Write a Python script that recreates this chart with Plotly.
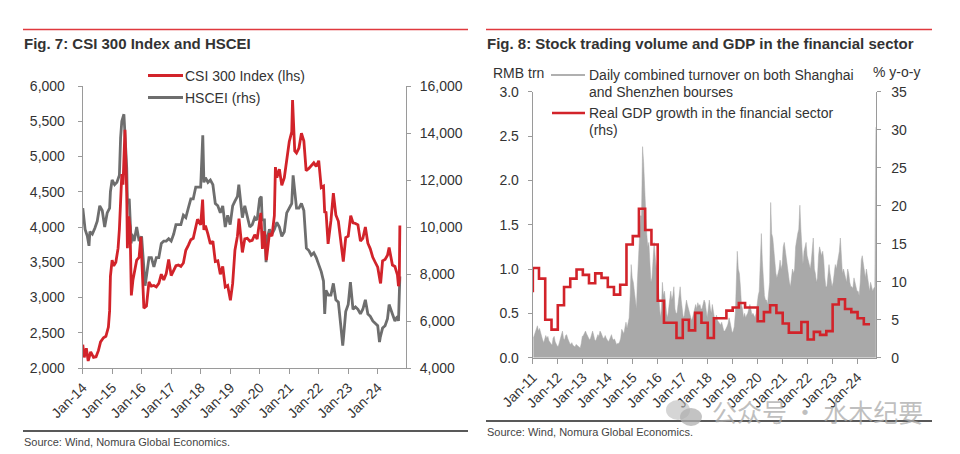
import plotly.graph_objects as go
import pandas as pd

W, H = 960, 454
def px(x): return x / W
def py(y): return 1 - y / H

FONT = "Liberation Sans, Arial, sans-serif"
RED = "#d2232a"
GRAY_LINE = "#6e6e6e"
FILL_GRAY = "#a9a9a9"
TXT = "#333333"
AXIS = "#9a9a9a"

# ---------------- Fig. 7 data ----------------
csi_dates = ["2014-01-02","2014-01-20","2014-02-15","2014-03-10","2014-04-10","2014-05-15","2014-06-15",
 "2014-07-15","2014-08-10","2014-09-15","2014-10-15","2014-11-15","2014-11-30","2014-12-10","2014-12-31",
 "2015-01-20","2015-02-15","2015-03-15","2015-03-31","2015-04-30","2015-05-15","2015-05-31","2015-06-08",
 "2015-06-30","2015-07-08","2015-07-24","2015-08-10","2015-08-26","2015-09-15","2015-10-31","2015-11-30",
 "2015-12-22","2016-01-15","2016-01-28","2016-02-29","2016-03-31","2016-04-30","2016-05-31","2016-06-30",
 "2016-07-31","2016-08-31","2016-09-30","2016-10-31","2016-11-30","2016-12-31","2017-01-31","2017-02-28",
 "2017-03-31","2017-04-30","2017-05-31","2017-06-30","2017-07-31","2017-08-31","2017-09-30","2017-10-31",
 "2017-11-22","2017-12-31","2018-01-24","2018-02-09","2018-02-28","2018-03-31","2018-04-30","2018-05-31",
 "2018-06-30","2018-07-31","2018-08-31","2018-09-30","2018-10-31","2018-11-30","2018-12-31","2019-01-03",
 "2019-01-31","2019-02-28","2019-03-31","2019-04-19","2019-05-31","2019-06-30","2019-07-31","2019-08-31",
 "2019-09-30","2019-10-31","2019-11-30","2019-12-31","2020-01-14","2020-02-03","2020-02-28","2020-03-23",
 "2020-04-30","2020-05-31","2020-06-30","2020-07-13","2020-07-31","2020-08-31","2020-09-30","2020-10-31",
 "2020-11-30","2020-12-31","2021-01-31","2021-02-10","2021-03-09","2021-03-31","2021-04-30","2021-05-31",
 "2021-06-30","2021-07-28","2021-08-31","2021-09-30","2021-10-31","2021-11-30","2021-12-31","2022-01-31",
 "2022-02-28","2022-03-15","2022-03-31","2022-04-26","2022-05-31","2022-06-30","2022-07-31","2022-08-31",
 "2022-09-30","2022-10-31","2022-11-30","2022-12-31","2023-01-31","2023-02-28","2023-03-31","2023-04-30",
 "2023-05-31","2023-06-30","2023-07-31","2023-08-31","2023-09-30","2023-10-31","2023-11-30","2023-12-31",
 "2024-01-31","2024-02-05","2024-02-29","2024-03-31","2024-04-30","2024-05-20","2024-06-30","2024-07-31",
 "2024-08-31","2024-09-13","2024-09-23","2024-09-30"]
csi_values = [2330,2150,2280,2100,2230,2150,2160,
 2250,2370,2430,2450,2580,2810,3300,3530,
 3450,3500,3700,3970,4750,4600,5100,5380,
 4470,3700,4150,4000,3030,3250,3530,3570,
 3860,3120,2850,2880,3220,3160,3170,3150,
 3200,3330,3250,3340,3540,3310,3390,3450,
 3460,3440,3490,3670,3740,3820,3840,4010,
 4110,4030,4390,3960,4020,3900,3760,3800,
 3510,3520,3330,3440,3150,3170,3010,2960,
 3200,3670,3870,4120,3640,3830,3840,3800,
 3810,3890,3830,4100,4200,3690,3940,3530,
 3910,3870,4160,4850,4700,4820,4590,4700,
 4980,5210,5350,5800,5080,5050,5120,5330,
 5220,4800,4830,4870,4910,4860,4940,4560,
 4580,4200,4220,3760,4090,4480,4170,4080,
 3800,3510,3850,3870,4160,4060,4050,4030,
 3800,3840,4000,3770,3690,3570,3500,3430,
 3220,3200,3520,3540,3600,3710,3460,3440,
 3320,3160,3250,4020]

hscei_dates = ["2014-01-02","2014-01-31","2014-02-28","2014-03-20","2014-03-31","2014-04-30","2014-05-31",
 "2014-06-30","2014-07-31","2014-08-31","2014-09-30","2014-10-31","2014-11-30","2014-12-10","2014-12-31",
 "2015-01-31","2015-02-28","2015-03-31","2015-04-15","2015-04-30","2015-05-26","2015-06-30","2015-07-08",
 "2015-07-31","2015-08-24","2015-08-31","2015-09-30","2015-10-31","2015-11-30","2015-12-31","2016-01-31",
 "2016-02-12","2016-02-29","2016-03-31","2016-04-30","2016-05-31","2016-06-30","2016-07-31","2016-08-31",
 "2016-09-30","2016-10-31","2016-11-30","2016-12-31","2017-01-31","2017-02-28","2017-03-31","2017-04-30",
 "2017-05-31","2017-06-30","2017-07-31","2017-08-31","2017-09-30","2017-10-31","2017-11-30","2017-12-31",
 "2018-01-26","2018-02-09","2018-02-28","2018-03-31","2018-04-30","2018-05-31","2018-06-30","2018-07-31",
 "2018-08-31","2018-09-30","2018-10-31","2018-11-30","2018-12-31","2019-01-31","2019-02-28","2019-03-31",
 "2019-04-17","2019-05-31","2019-06-30","2019-07-31","2019-08-31","2019-09-30","2019-10-31","2019-11-30",
 "2019-12-31","2020-01-20","2020-01-31","2020-02-28","2020-03-19","2020-03-31","2020-04-30","2020-05-31",
 "2020-06-30","2020-07-31","2020-08-31","2020-09-30","2020-10-31","2020-11-30","2020-12-31","2021-01-31",
 "2021-02-17","2021-03-31","2021-04-30","2021-05-31","2021-06-30","2021-07-31","2021-08-31","2021-09-30",
 "2021-10-31","2021-11-30","2021-12-31","2022-01-31","2022-02-28","2022-03-15","2022-03-31","2022-04-30",
 "2022-05-31","2022-06-30","2022-07-31","2022-08-31","2022-09-30","2022-10-24","2022-10-31","2022-11-30",
 "2022-12-31","2023-01-27","2023-02-28","2023-03-31","2023-04-30","2023-05-31","2023-06-30","2023-07-31",
 "2023-08-31","2023-09-30","2023-10-31","2023-11-30","2023-12-31","2024-01-22","2024-01-31","2024-02-29",
 "2024-03-31","2024-04-30","2024-05-20","2024-06-30","2024-07-31","2024-08-31","2024-09-13","2024-09-30"]
hscei_values = [10800,9900,9600,9200,9800,9700,9950,
 10250,10900,10700,10000,10600,10800,11500,12000,
 11800,11900,12200,13800,14500,14800,12500,11000,
 11200,9300,9700,9400,10000,9400,9600,8100,
 7500,7900,8700,8700,8300,8700,8700,9300,
 9400,9400,9500,9400,9700,10100,10100,10100,
 10500,10400,10800,11200,11200,11700,11700,11700,
 13900,11900,12100,11900,12000,11800,11000,10900,
 10600,10900,10000,10500,10100,10900,11100,11300,
 11800,10400,10900,10500,10000,10100,10400,10300,
 11200,11300,10300,10300,8500,9500,9900,9700,
 9900,10200,10000,9600,9800,10600,10800,11000,
 12200,10800,10800,11000,10700,9100,9000,8800,
 8900,8700,8400,8100,7700,6300,7300,7100,
 7100,7600,6900,6800,5800,4950,5200,6400,
 6700,7650,6500,6600,6500,6300,6500,6900,
 6300,6200,6000,5900,5800,5100,5300,5700,
 5800,6100,6700,6300,6000,6200,6000,7900]

fig7_years = list(range(2014, 2025))

# ---------------- Fig. 8 data ----------------
# Daily combined turnover (RMB trn), read twice a month (first half, second half)
turnover = [
 0.22,0.25, 0.28,0.33, 0.36,0.30, 0.33,0.28, 0.25,0.20, 0.17,0.20, 0.25,0.22, 0.24,0.19, 0.17,0.15, 0.14,0.22, 0.24,0.18, 0.15,0.13,
 0.13,0.18, 0.24,0.28, 0.30,0.22, 0.20,0.25, 0.26,0.22, 0.18,0.16, 0.15,0.17, 0.14,0.13, 0.12,0.15, 0.14,0.13, 0.12,0.11, 0.16,0.24,
 0.25,0.28, 0.30,0.27, 0.25,0.22, 0.20,0.22, 0.28,0.30, 0.25,0.20, 0.19,0.22, 0.26,0.24, 0.30,0.28, 0.24,0.22, 0.22,0.25, 0.22,0.19,
 0.18,0.20, 0.24,0.26, 0.22,0.20, 0.21,0.17, 0.15,0.16, 0.16,0.18, 0.22,0.32, 0.30,0.27, 0.34,0.40, 0.33,0.38, 0.45,0.70, 1.05,0.90,
 0.85,0.75, 0.60,0.55, 0.85,1.10, 1.40,1.60, 1.60,2.38, 2.20,1.80, 1.65,1.40, 1.25,1.30, 0.95,0.85, 0.90,1.10, 1.30,1.15, 1.00,1.10,
 0.80,0.60, 0.45,0.55, 0.85,0.70, 0.75,0.60, 0.50,0.45, 0.55,0.60, 0.75,0.65, 0.70,0.80, 0.55,0.50, 0.50,0.60, 0.75,0.80, 0.65,0.55,
 0.45,0.48, 0.55,0.65, 0.60,0.55, 0.50,0.45, 0.42,0.45, 0.50,0.55, 0.60,0.55, 0.62,0.58, 0.60,0.55, 0.55,0.60, 0.65,0.62, 0.50,0.45,
 0.55,0.65, 0.55,0.50, 0.60,0.50, 0.45,0.43, 0.48,0.42, 0.40,0.38, 0.37,0.40, 0.33,0.30, 0.30,0.32, 0.35,0.38, 0.45,0.40, 0.32,0.28,
 0.30,0.35, 0.50,0.85, 1.20,1.00, 0.95,0.80, 0.60,0.55, 0.45,0.50, 0.45,0.48, 0.50,0.55, 0.60,0.55, 0.48,0.50, 0.48,0.45, 0.50,0.62,
 0.70,0.75, 1.05,1.40, 1.10,0.85, 0.70,0.65, 0.65,0.60, 0.70,0.85, 1.75,1.40, 1.35,1.20, 1.05,0.95, 0.90,0.95, 1.00,1.10, 1.00,1.05,
 1.25,1.30, 1.20,1.15, 1.00,0.95, 0.85,0.80, 0.90,1.00, 0.95,1.00, 1.25,1.35, 1.40,1.45, 1.72,1.45, 1.15,1.05, 1.20,1.25, 1.30,1.15,
 1.10,1.05, 1.00,1.10, 1.25,1.35, 1.00,0.95, 0.85,0.90, 1.15,1.25, 1.20,1.15, 1.20,1.10, 0.90,0.80, 0.80,0.95, 1.05,0.95, 0.85,0.80,
 0.85,0.95, 1.05,1.00, 1.05,1.10, 1.20,1.35, 1.05,0.95, 1.00,0.95, 0.90,0.85, 1.00,0.95, 0.85,0.80, 0.80,0.78, 0.90,0.85, 0.80,0.75,
 0.75,0.70, 0.85,1.10, 1.15,1.05, 0.95,0.90, 1.00,0.90, 0.80,0.75, 0.85,0.80, 0.75,0.78, 0.80,2.60,
]
turnover_start, turnover_end = "2011-01", "2024-09"

# Real GDP growth in the financial sector (% y-o-y), quarterly, 2010Q4 - 2024Q2
gdp_growth = [8.6,
 11.8, 10.4, 5.0, 3.7,
 6.9, 9.3, 10.4, 11.6,
 10.9, 9.8, 11.1, 10.5,
 9.3, 8.3, 9.6, 14.9,
 16.0, 19.6, 16.8, 14.9,
 7.5, 4.6, 4.6, 2.6,
 5.0, 3.6, 5.9, 4.6,
 2.6, 5.2, 5.2, 6.2,
 6.6, 7.2, 6.6, 6.6,
 4.8, 6.0, 6.9, 5.9,
 4.5, 3.3, 3.3, 4.7,
 2.4, 3.4, 3.0, 3.5,
 7.0, 7.7, 6.4, 6.0,
 5.2, 4.4]
gdp_start, gdp_end = "2010Q4", "2024Q2"

fig8_years = list(range(2011, 2025))

# ---------------- derived x positions ----------------
months = pd.period_range(turnover_start, turnover_end, freq="M")
turnover_dates = []
for m in months:
    s = m.start_time
    turnover_dates.append(s + pd.Timedelta(days=7))
    turnover_dates.append(s + pd.Timedelta(days=22))
turnover_dates = turnover_dates[:len(turnover)]

quarters = pd.period_range(gdp_start, gdp_end, freq="Q")
gdp_dates = [q.end_time.normalize() for q in quarters]

fig = go.Figure()

# Fig 7 traces: gray on y (rhs), red on y2 (lhs, overlay -> drawn on top)
fig.add_trace(go.Scatter(x=pd.to_datetime(hscei_dates), y=hscei_values, mode="lines",
                         line=dict(color=GRAY_LINE, width=2.8), xaxis="x", yaxis="y",
                         name="HSCEI (rhs)", showlegend=False))
fig.add_trace(go.Scatter(x=pd.to_datetime(csi_dates), y=csi_values, mode="lines",
                         line=dict(color=RED, width=2.8), xaxis="x", yaxis="y2",
                         name="CSI 300 Index (lhs)", showlegend=False))

# Fig 8 traces
fig.add_trace(go.Scatter(x=turnover_dates, y=turnover, mode="lines", fill="tozeroy",
                         fillcolor=FILL_GRAY, line=dict(color=FILL_GRAY, width=0.5),
                         xaxis="x2", yaxis="y3", showlegend=False,
                         name="Daily combined turnover"))
fig.add_trace(go.Scatter(x=gdp_dates, y=gdp_growth, mode="lines", line_shape="vh",
                         line=dict(color=RED, width=2.6), xaxis="x2", yaxis="y4",
                         showlegend=False, name="Real GDP growth"))

tickfont = dict(family=FONT, size=14, color=TXT)
common = dict(showline=True, linecolor=AXIS, linewidth=1, ticks="outside", tickcolor=AXIS,
              tickfont=tickfont, showgrid=False, zeroline=False, automargin=False)

d7x = [px(82.7), px(406)]
d7y = [py(368), py(86)]
d8x = [px(532.7), px(876.4)]
d8y = [py(357.7), py(91.7)]

fig.update_layout(
    width=W, height=H, margin=dict(l=0, r=0, t=0, b=0, autoexpand=False),
    paper_bgcolor="white", plot_bgcolor="white",
    font=dict(family=FONT, color=TXT),
    xaxis=dict(domain=d7x, anchor="y", type="date",
               range=["2014-01-01", "2024-12-15"],
               tickvals=[f"{y}-01-01" for y in fig7_years],
               ticktext=[f"Jan-{y % 100:02d}" for y in fig7_years],
               tickangle=-45, ticklen=5, **common),
    yaxis=dict(domain=d7y, anchor="x", side="right", range=[4000, 16000], dtick=2000,
               tickformat=",d", ticklen=4, ticklabelstandoff=6, **common),
    yaxis2=dict(overlaying="y", anchor="x", side="left", range=[2000, 6000], dtick=500,
                tickformat=",d", ticklen=4, ticklabelstandoff=10, **common),
    xaxis2=dict(domain=d8x, anchor="y3", type="date",
                range=["2010-12-29", "2024-10-01"],
                tickvals=[f"{y}-01-01" for y in fig8_years],
                ticktext=[f"Jan-{y % 100:02d}" for y in fig8_years],
                tickangle=-45, ticklen=5, **common),
    yaxis3=dict(domain=d8y, anchor="x2", side="left", range=[0, 3.0], dtick=0.5,
                tickformat=".1f", ticklen=4, ticklabelstandoff=6, **common),
    yaxis4=dict(overlaying="y3", anchor="x2", side="right", range=[0, 35], dtick=5,
                tickformat="d", ticklen=4, ticklabelstandoff=7, **common),
)

shapes = []
def hline(x0, x1, y, color, width):
    shapes.append(dict(type="line", xref="paper", yref="paper", x0=px(x0), x1=px(x1),
                       y0=py(y), y1=py(y), line=dict(color=color, width=width)))

# top red rules and bottom black rules
hline(23, 468, 29.5, "#e0393e", 1.6)
hline(486, 932, 29.5, "#e0393e", 1.6)
hline(23, 468, 431, "#222222", 1.4)
hline(486, 932, 421, "#222222", 1.4)
# legend swatches
hline(148, 183, 75.5, RED, 3)
hline(148, 183, 97.5, GRAY_LINE, 3)
hline(551, 585, 75, "#b0b0b0", 2.2)
hline(552, 585, 113, RED, 2.6)

ann = []
def text(x, y, s, size=14, bold=False, color=TXT, xanchor="left", family=FONT):
    ann.append(dict(xref="paper", yref="paper", x=px(x), y=py(y), text=f"<b>{s}</b>" if bold else s,
                    showarrow=False, xanchor=xanchor, yanchor="middle",
                    font=dict(family=family, size=size, color=color)))

text(22, 43.5, "Fig. 7: CSI 300 Index and HSCEI", size=15, bold=True)
text(485, 43.5, "Fig. 8: Stock trading volume and GDP in the financial sector", size=15, bold=True)
text(183, 75.5, "CSI 300 Index (lhs)")
text(183, 98, "HSCEI (rhs)")
text(587, 75, "Daily combined turnover on both Shanghai")
text(587, 92, "and Shenzhen bourses")
text(587, 113, "Real GDP growth in the financial sector")
text(587, 130, "(rhs)")
text(491, 73, "RMB trn")
text(871, 72, "% y-o-y")
text(22, 441.5, "Source: Wind, Nomura Global Economics.", size=11, color="#444444")
text(485, 431.5, "Source: Wind, Nomura Global Economics.", size=11, color="#444444")
text(710, 411, "公众号 · 水木纪要", size=25, color="rgba(170,170,170,0.75)",
     family="Noto Sans CJK SC")

# simple watermark icon (two bubbles)
shapes.append(dict(type="circle", xref="paper", yref="paper", x0=px(666), x1=px(690),
                   y0=py(420), y1=py(400), fillcolor="rgba(185,185,185,0.6)", line=dict(width=0)))
shapes.append(dict(type="circle", xref="paper", yref="paper", x0=px(680), x1=px(702),
                   y0=py(426), y1=py(408), fillcolor="rgba(175,175,175,0.75)", line=dict(width=0)))

fig.update_layout(shapes=shapes, annotations=ann)
fig.write_html("out.html", config={"displayModeBar": False},
               post_script="document.body.style.margin='0px';document.body.style.overflow='hidden';")
